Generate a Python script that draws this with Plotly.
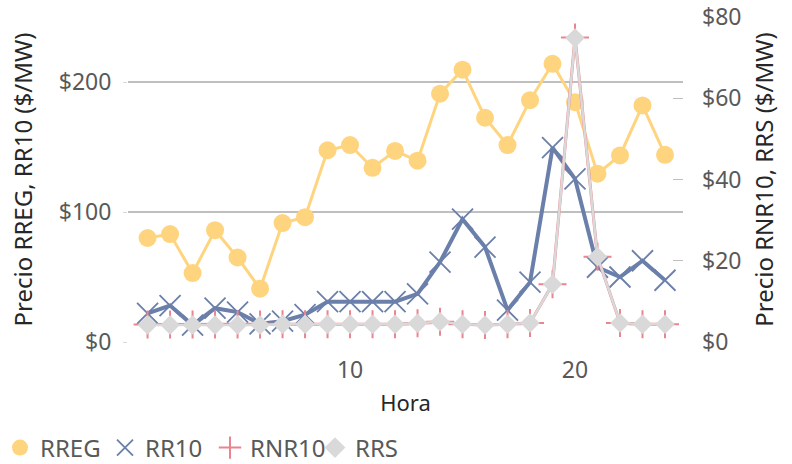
import plotly.graph_objects as go

hours = list(range(1, 25))
rreg = [80, 83, 53, 86, 65, 41, 91.5, 96, 147.5, 151.5, 134, 147,
        139.5, 191, 209.5, 172.5, 151.5, 186, 214, 184.5, 129.5, 143.5, 182, 144]
rr10 = [22, 28, 13, 26, 23, 14, 16, 21, 31, 31, 31, 31,
        37, 61.5, 94.5, 73, 24.5, 46, 149.5, 125.5, 57.5, 50, 62.5, 47.5]
rnr10 = [4.3, 4.3, 4.3, 4.3, 4.3, 4.3, 4.4, 4.4, 4.4, 4.4, 4.4, 4.4,
         4.6, 5.0, 4.4, 4.2, 4.4, 4.7, 14.2, 75.0, 21.0, 4.7, 4.4, 4.4]
rrs = [4.2, 4.2, 4.2, 4.2, 4.2, 4.2, 4.4, 4.4, 4.4, 4.4, 4.4, 4.4,
       4.6, 5.0, 4.4, 4.2, 4.4, 4.7, 14.2, 74.9, 21.0, 4.7, 4.4, 4.4]

left_ticks = [0, 100, 200]
left_labels = ["$0", "$100", "$200"]
right_ticks = [0, 20, 40, 60, 80]
right_labels = ["$0", "$20", "$40", "$60", "$80"]

C_RREG = "#FFD47F"
C_RR10 = "#6A7FAA"
C_RNR10 = "#E9858F"
C_RRS = "#D9D9D9"
FONT = "Noto Sans"
TICK = 23
YTITLE = 24
XTITLE = 22

fig = go.Figure()
fig.add_trace(go.Scatter(x=hours, y=rreg, name="RREG", mode="lines+markers",
                         line=dict(color=C_RREG, width=3),
                         marker=dict(symbol="circle", size=18, color=C_RREG),
                         showlegend=False, yaxis="y"))
fig.add_trace(go.Scatter(x=hours, y=rr10, name="RR10", mode="lines+markers",
                         line=dict(color=C_RR10, width=4),
                         marker=dict(symbol="x-thin", size=21,
                                     line=dict(color=C_RR10, width=1.8)),
                         showlegend=False, yaxis="y"))
fig.add_trace(go.Scatter(x=hours, y=rnr10, name="RNR10", mode="lines+markers",
                         line=dict(color=C_RNR10, width=3),
                         marker=dict(symbol="cross-thin", size=20,
                                     line=dict(color=C_RNR10, width=2)),
                         showlegend=False, yaxis="y2"))
fig.add_trace(go.Scatter(x=hours, y=rrs, name="RRS", mode="lines+markers",
                         line=dict(color=C_RRS, width=2.5),
                         marker=dict(symbol="diamond", size=15, color=C_RRS),
                         showlegend=False, yaxis="y2"))

# legend entries (marker only)
fig.add_trace(go.Scatter(x=[None], y=[None], name="RREG", mode="markers",
                         marker=dict(symbol="circle", size=19, color=C_RREG)))
fig.add_trace(go.Scatter(x=[None], y=[None], name="RR10", mode="markers",
                         marker=dict(symbol="x-thin", size=21,
                                     line=dict(color=C_RR10, width=1.8))))
fig.add_trace(go.Scatter(x=[None], y=[None], name="RNR10", mode="markers",
                         marker=dict(symbol="cross-thin", size=20,
                                     line=dict(color=C_RNR10, width=2))))
fig.add_trace(go.Scatter(x=[None], y=[None], name="RRS", mode="markers",
                         marker=dict(symbol="diamond", size=16, color=C_RRS)))

fig.update_layout(
    width=792, height=464,
    margin=dict(l=128, r=109, t=17, b=122),
    paper_bgcolor="white", plot_bgcolor="white",
    font=dict(family=FONT, size=TICK, color="#595959"),
    xaxis=dict(range=[0.13, 24.8], tickvals=[10, 20], ticktext=["10", "20"],
               showgrid=False, zeroline=False, showline=False, ticks="",
               automargin=False, ticklabelstandoff=12, ticklabeloverflow="allow",
               title=dict(text="Hora", font=dict(size=XTITLE, color="#262626"), standoff=11),
               tickfont=dict(size=TICK, color="#595959")),
    yaxis=dict(range=[0, 250], tickvals=left_ticks, ticktext=left_labels,
               showgrid=True, gridcolor="#BFBFBF", gridwidth=1.5,
               zeroline=False, showline=False, automargin=False,
               ticks="outside", ticklen=4, tickcolor="#D9D9D9",
               ticklabelstandoff=7, ticklabeloverflow="allow",
               title=dict(text="Precio RREG, RR10 ($/MW)", font=dict(size=YTITLE, color="#262626"), standoff=19),
               tickfont=dict(size=TICK, color="#595959")),
    yaxis2=dict(range=[0, 80.05], tickvals=right_ticks, ticktext=right_labels,
                overlaying="y", side="right", showgrid=False, zeroline=False,
                showline=False, ticks="inside", ticklen=10, tickcolor="#BFBFBF",
                ticklabelstandoff=18, automargin=False, ticklabeloverflow="allow",
                title=dict(text="Precio RNR10, RRS ($/MW)", font=dict(size=YTITLE, color="#262626"), standoff=15),
                tickfont=dict(size=TICK, color="#595959")),
    legend=dict(orientation="h", xref="container", yref="container",
                x=-0.0088, xanchor="left", y=0.0345, yanchor="middle",
                font=dict(size=24, color="#595959"), itemwidth=30,
                entrywidth=60, entrywidthmode="pixels",
                tracegroupgap=0),
)

fig.write_html("out.html", config={"displayModeBar": False},
               post_script="document.body.style.margin='0';document.body.style.overflow='hidden';")
